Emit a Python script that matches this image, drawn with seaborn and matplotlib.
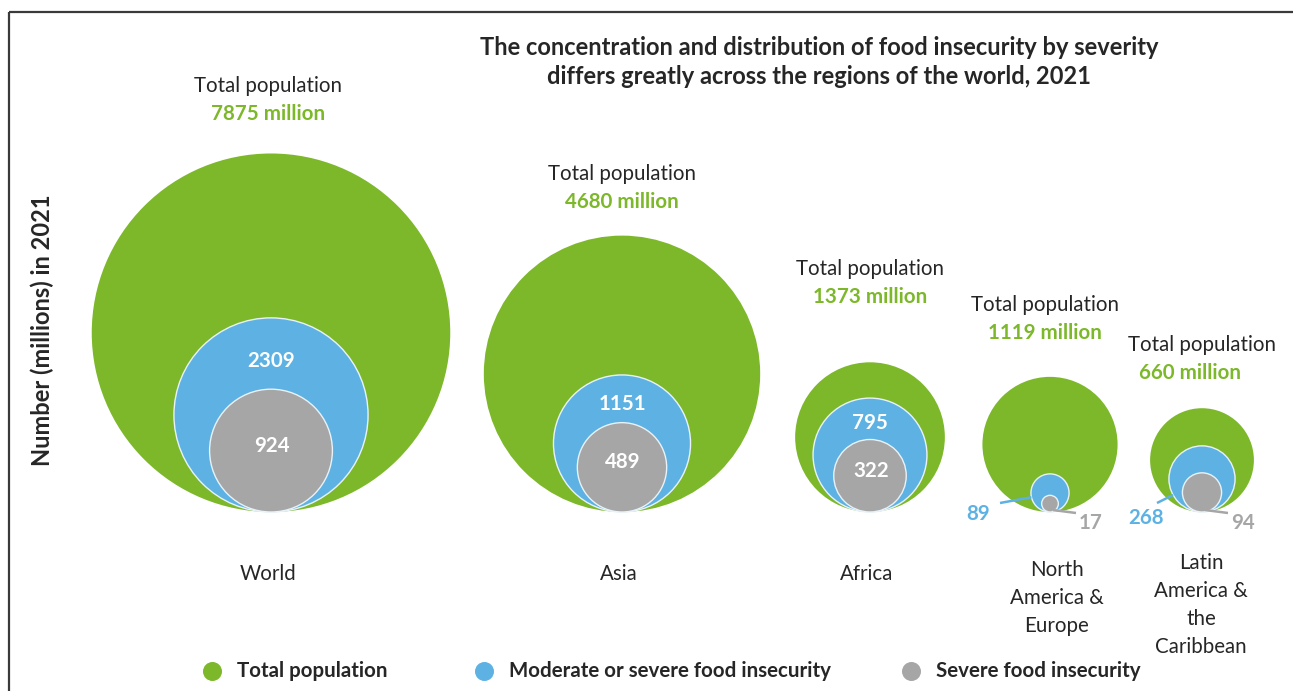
import numpy as np
import pandas as pd
import matplotlib
matplotlib.use("Agg")
import matplotlib.pyplot as plt
import seaborn as sns

# ---- data (millions of people, 2021) ----
regions = ["World", "Asia", "Africa", "North\nAmerica &\nEurope", "Latin\nAmerica &\nthe\nCaribbean"]
total_population = [7875, 4680, 1373, 1119, 660]
moderate_or_severe = [2309, 1151, 795, 89, 268]
severe = [924, 489, 322, 17, 94]
tiers = ["Total population", "Moderate or severe food insecurity", "Severe food insecurity"]

GREEN = "#7cb82a"
BLUE = "#5db2e3"
GREY = "#a6a6a6"
TEXT = "#262626"
palette = dict(zip(tiers, [GREEN, BLUE, GREY]))

sns.set_theme(style="white")
plt.rcParams["font.family"] = ["Lato", "DejaVu Sans"]

W, H, DPI = 1293, 691, 100
fig = plt.figure(figsize=(W / DPI, H / DPI), dpi=DPI)
ax = fig.add_axes([0, 0, 1, 1])
ax.set_xlim(0, W)
ax.set_ylim(H, 0)
ax.axis("off")

# layout: one column per region, circles resting on a common baseline
centers_x = [271, 622, 870, 1050, 1202]
baseline = 512
scale = 2.02  # pixels of radius per sqrt(million)

rows = []
for tier, vals in zip(tiers, [total_population, moderate_or_severe, severe]):
    for reg, cx, v in zip(regions, centers_x, vals):
        r = scale * np.sqrt(v)
        rows.append(dict(region=reg, tier=tier, value=v, x=cx, y=baseline - r, r=r))
df = pd.DataFrame(rows)

# marker 'o' diameter in points equals sqrt(s); 1 data unit = 1 pixel
px_to_pt = 72 / DPI
sizes = (2 * df["r"] * px_to_pt) ** 2
edge_w = np.where(df["tier"] == tiers[0], 0.0, 1.0)
sns.scatterplot(data=df, x="x", y="y", hue="tier", palette=palette, s=sizes,
                edgecolor="#e8f2f8", linewidth=edge_w, legend=False, ax=ax, zorder=2)

FS = 14.8
FS_TITLE = 17

# title
ax.text(819, 47, "The concentration and distribution of food insecurity by severity",
        ha="center", va="center", fontsize=FS_TITLE, fontweight="bold", color=TEXT)
ax.text(819, 76, "differs greatly across the regions of the world, 2021",
        ha="center", va="center", fontsize=FS_TITLE, fontweight="bold", color=TEXT)

# y-axis caption
ax.text(42, 330, "Number (millions) in 2021", rotation=90, ha="center", va="center",
        fontsize=FS_TITLE, fontweight="bold", color=TEXT)

# total population headers above each circle
header_y = [86, 174, 269, 305, 345]
header_dx = [-3, 0, 0, -5, 0]
million_dx = [-3, 0, 0, -5, -12]
for i, (cx, v) in enumerate(zip(centers_x, total_population)):
    ax.text(cx + header_dx[i], header_y[i], "Total population", ha="center", va="center",
            fontsize=FS, color=TEXT)
    ax.text(cx + million_dx[i], header_y[i] + 28, f"{v} million", ha="center", va="center",
            fontsize=FS, fontweight="bold", color=GREEN)

# value labels inside the larger circles
for i in range(3):
    cx = centers_x[i]
    rb = scale * np.sqrt(moderate_or_severe[i])
    rg = scale * np.sqrt(severe[i])
    btop, gtop = baseline - 2 * rb, baseline - 2 * rg
    ax.text(cx, gtop - 0.4 * (gtop - btop), str(moderate_or_severe[i]),
            ha="center", va="center", fontsize=FS, fontweight="bold", color="white")
    ax.text(cx + 1, baseline - rg - 5, str(severe[i]), ha="center", va="center",
            fontsize=FS, fontweight="bold", color="white")

# small circles get leader lines and outside labels
leader_angle = [193, 209]      # degrees, where the blue leader leaves the circle
leader_end_dx = [-50, -45]     # leader end, relative to circle centre
label_dx = [-22, -11]          # label centre, relative to leader end
label_dy = [11, 15]
for j, i in enumerate((3, 4)):
    cx = centers_x[i]
    rb = scale * np.sqrt(moderate_or_severe[i])
    cy = baseline - rb
    a = np.deg2rad(leader_angle[j])
    sx, sy = cx + rb * np.cos(a), cy - rb * np.sin(a)
    ex, ey = cx + leader_end_dx[j], 503
    ax.plot([sx, ex], [sy, ey], color=BLUE, lw=1.8, zorder=3, solid_capstyle="butt")
    ax.text(ex + label_dx[j], ey + label_dy[j], str(moderate_or_severe[i]), ha="center",
            va="center", fontsize=FS, fontweight="bold", color=BLUE)
    # grey leader from the bottom of the severe circle
    gx, gy = cx + 3, baseline - 2
    ax.plot([gx, gx + 23], [gy, gy + 3], color=GREY, lw=1.8, zorder=3, solid_capstyle="butt")
    ax.text(gx + 38, gy + 13, str(severe[i]), ha="center", va="center",
            fontsize=FS, fontweight="bold", color=GREY)

# region names
name_tops = [575, 575, 575, 571, 564]
for cx, name, ytop in zip(centers_x, regions, name_tops):
    dx = 7 if name.startswith("North") else (-1 if name.startswith("Latin") else -3)
    ax.text(cx + dx, ytop - 11, name, ha="center", va="top", fontsize=FS,
            color=TEXT, linespacing=1.5)

# legend row
leg_x = [212, 484, 911]
for lx, tier in zip(leg_x, tiers):
    ax.scatter([lx], [671], s=(19 * px_to_pt) ** 2, color=palette[tier], zorder=3,
               linewidths=0)
    ax.text(lx + 25, 671, tier, ha="left", va="center", fontsize=FS,
            fontweight="bold", color=TEXT)

# frame lines along the top and left edges
ax.plot([9, W], [12, 12], color="#3a3a3a", lw=1.6, zorder=4, solid_capstyle="butt")
ax.plot([9, 9], [12, H], color="#3a3a3a", lw=1.6, zorder=4, solid_capstyle="butt")

fig.savefig("out.png", dpi=DPI)
